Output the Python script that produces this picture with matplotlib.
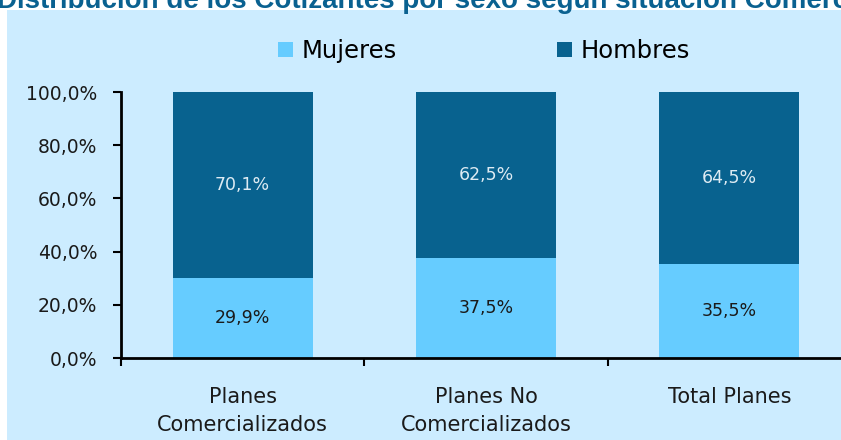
import numpy as np
import matplotlib
matplotlib.use("Agg")
import matplotlib.pyplot as plt
from matplotlib.patches import Rectangle

categorias = ["Planes\nComercializados", "Planes No\nComercializados", "Total Planes"]
mujeres = [29.9, 37.5, 35.5]
hombres = [70.1, 62.5, 64.5]
series = ["Mujeres", "Hombres"]
yticks = [0, 20, 40, 60, 80, 100]

c_muj = "#66CCFF"
c_hom = "#08628F"
fondo = "#CCECFF"

plt.rcParams['font.family'] = ['DejaVu Sans']

fig = plt.figure(figsize=(8.41, 4.40), dpi=100)
fig.patch.set_facecolor("white")

# panel de fondo celeste
fig.patches.append(Rectangle((7 / 841, 0), 1.0, 1 - 10 / 440, transform=fig.transFigure,
                             facecolor=fondo, edgecolor="none", zorder=-5))

fig.text(-0.004, 1 - 8 / 440, "Distribución de los Cotizantes por sexo según situación Comercial",
         fontsize=20, fontweight="bold", color="#0A6190", family=["Liberation Sans", "DejaVu Sans"],
         ha="left", va="baseline")

ax = fig.add_axes([121 / 841, 1 - 358 / 440, 730 / 841, 266 / 440])
ax.set_facecolor("none")
ax.set_zorder(2)

x = np.arange(len(categorias))
w = 0.576
b1 = ax.bar(x, mujeres, w, color=c_muj, label=series[0], zorder=2)
b2 = ax.bar(x, hombres, w, bottom=mujeres, color=c_hom, label=series[1], zorder=2)

for i in range(len(x)):
    ax.text(x[i], mujeres[i] / 2, f"{mujeres[i]:.1f}%".replace(".", ","),
            ha="center", va="center", fontsize=12.5, color="#1A1A1A", zorder=3)
    ax.text(x[i], mujeres[i] + hombres[i] / 2, f"{hombres[i]:.1f}%".replace(".", ","),
            ha="center", va="center", fontsize=12.5, color="#DDEBF3", zorder=3)

ax.set_xlim(-0.5, 2.5)
ax.set_ylim(0, 100)
ax.set_yticks(yticks)
ax.set_yticklabels([f"{v:.1f}%".replace(".", ",") for v in yticks], fontsize=13.5, color="#1A1A1A")
ax.tick_params(axis="y", length=6, width=1.5, pad=11)

ax.set_xticks(x)
ax.set_xticklabels(categorias, fontsize=15, color="#1A1A1A", linespacing=1.5)
ax.set_xticks([-0.5, 0.5, 1.5, 2.5], minor=True)
ax.tick_params(axis="x", which="major", length=0, pad=21)
ax.tick_params(axis="x", which="minor", length=6, width=1.5)

for s in ["top", "right"]:
    ax.spines[s].set_visible(False)
for s in ["left", "bottom"]:
    ax.spines[s].set_linewidth(2)

leg = ax.legend(loc="center", bbox_to_anchor=(363 / 730, (358 - 51) / 266), ncol=2,
                frameon=False, fontsize=17.5, handlelength=0.6, handleheight=0.6,
                handletextpad=0.35, columnspacing=6.6)

fig.savefig("out.png", dpi=100)
